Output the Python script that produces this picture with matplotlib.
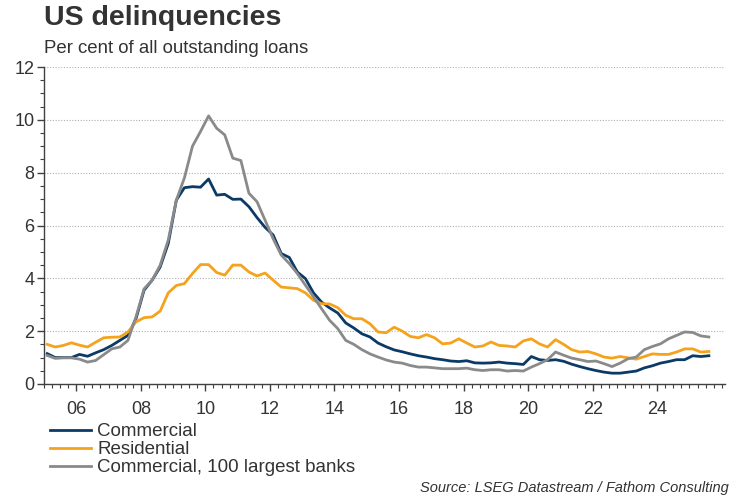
import matplotlib
matplotlib.use("Agg")
import matplotlib.pyplot as plt
from matplotlib.ticker import FixedLocator, MultipleLocator, FuncFormatter
import numpy as np

plt.rcParams['font.family'] = ['Liberation Sans', 'DejaVu Sans']

# Quarterly data, 2005Q1 .. 2025Q3
start_year = 2005.1
step = 0.25

commercial = [1.15, 1.0, 1.0, 1.0, 1.12, 1.05, 1.18, 1.3, 1.46, 1.65,
              1.84, 2.47, 3.55, 3.93, 4.43, 5.32, 6.96, 7.43, 7.47, 7.45,
              7.76, 7.15, 7.18, 6.99, 7.0, 6.71, 6.3, 5.93, 5.64, 4.94,
              4.79, 4.24, 3.99, 3.45, 3.1, 2.88, 2.69, 2.31, 2.12, 1.9,
              1.78, 1.55, 1.41, 1.29, 1.22, 1.14, 1.07, 1.02, 0.96, 0.92,
              0.87, 0.85, 0.88, 0.8, 0.79, 0.8, 0.83, 0.79, 0.77, 0.74,
              1.04, 0.92, 0.89, 0.92, 0.86, 0.75, 0.66, 0.58, 0.51, 0.45,
              0.41, 0.41, 0.45, 0.49, 0.61, 0.69, 0.79, 0.85, 0.92, 0.92,
              1.07, 1.04, 1.07]

residential = [1.5, 1.4, 1.46, 1.56, 1.47, 1.4, 1.58, 1.75, 1.77, 1.78,
               1.97, 2.35, 2.51, 2.54, 2.76, 3.45, 3.73, 3.8, 4.18, 4.52,
               4.52, 4.22, 4.12, 4.5, 4.5, 4.24, 4.09, 4.2, 3.93, 3.67,
               3.64, 3.61, 3.45, 3.17, 3.04, 3.03, 2.89, 2.6, 2.47, 2.47,
               2.28, 1.97, 1.94, 2.15, 2.0, 1.8, 1.75, 1.87, 1.75, 1.52,
               1.55, 1.71, 1.55, 1.4, 1.44, 1.59, 1.46, 1.44, 1.4, 1.63,
               1.71, 1.52, 1.4, 1.68, 1.5, 1.3, 1.21, 1.23, 1.14, 1.02,
               0.98, 1.04, 0.99, 0.94, 1.04, 1.14, 1.12, 1.12, 1.21, 1.33,
               1.33, 1.21, 1.23]

commercial_top100 = [1.08, 0.97, 0.99, 0.99, 0.94, 0.83, 0.89, 1.11, 1.33, 1.4,
                     1.65, 2.54, 3.6, 3.93, 4.5, 5.45, 6.96, 7.8, 9.0, 9.56,
                     10.15, 9.68, 9.43, 8.55, 8.46, 7.22, 6.9, 6.2, 5.5, 4.88,
                     4.56, 4.18, 3.74, 3.3, 2.85, 2.41, 2.1, 1.65, 1.5, 1.3,
                     1.14, 1.02, 0.91, 0.83, 0.79, 0.7, 0.64, 0.64, 0.61, 0.58,
                     0.58, 0.58, 0.6, 0.54, 0.51, 0.54, 0.54, 0.49, 0.51, 0.49,
                     0.64, 0.77, 0.92, 1.21, 1.09, 0.98, 0.92, 0.85, 0.87, 0.77,
                     0.66, 0.79, 0.96, 1.02, 1.3, 1.42, 1.52, 1.71, 1.84, 1.97,
                     1.95, 1.82, 1.78]

series_labels = ["Commercial", "Residential", "Commercial, 100 largest banks"]
series_colors = ["#0b3a66", "#f5a31c", "#8a8a8a"]
tick_years = [2006, 2008, 2010, 2012, 2014, 2016, 2018, 2020, 2022, 2024]

x = start_year + step * np.arange(len(commercial))

fig = plt.figure(figsize=(7.5, 5), dpi=100)
ax = fig.add_axes([44/750, 1-384/500, (725-44)/750, (384-67)/500])

for vals, lab, col in zip([commercial, residential, commercial_top100], series_labels, series_colors):
    ax.plot(x, vals, color=col, lw=2.0, label=lab, solid_joinstyle='round')

ax.set_xlim(2005.0, 2026.1)
ax.set_ylim(0, 12)

ax.xaxis.set_major_locator(FixedLocator(tick_years))
ax.xaxis.set_minor_locator(MultipleLocator(0.25))
ax.xaxis.set_major_formatter(FuncFormatter(lambda v, p: f"{int(round(v)) % 100:02d}"))
ax.yaxis.set_major_locator(MultipleLocator(2))
ax.yaxis.set_minor_locator(MultipleLocator(0.5))

for s in ['top', 'right']:
    ax.spines[s].set_visible(False)
for s in ['left', 'bottom']:
    ax.spines[s].set_color('#404040')
    ax.spines[s].set_linewidth(1.0)

ax.tick_params(axis='both', which='major', length=5, width=1, color='#404040',
               labelsize=13, labelcolor='#333333', direction='out')
ax.tick_params(axis='both', which='minor', length=3, width=0.8, color='#404040', direction='out')
ax.tick_params(axis='x', which='major', pad=7)
ax.tick_params(axis='y', which='major', pad=2)

ax.grid(axis='y', which='major', color='#b0b0b0', linestyle=(0, (1, 1.5)), linewidth=0.8)
ax.set_axisbelow(True)

fig.text(44/750, 1-25/500, "US delinquencies", fontsize=20.5, fontweight='bold',
         color='#333333', va='baseline', ha='left')
fig.text(44/750, 1-53/500, "Per cent of all outstanding loans", fontsize=13.4,
         color='#333333', va='baseline', ha='left')

leg = fig.legend(loc='upper left', bbox_to_anchor=(50/750, 1-423/500), frameon=False,
                 fontsize=13.5, handlelength=2.2, handletextpad=0.33, labelspacing=0.05,
                 borderaxespad=0, borderpad=0)
for t in leg.get_texts():
    t.set_color('#333333')

fig.text(729/750, 1-488/500, "Source: LSEG Datastream / Fathom Consulting", fontsize=10.5,
         style='italic', color='#333333', ha='right', va='center')

fig.savefig("out.png", dpi=100)
